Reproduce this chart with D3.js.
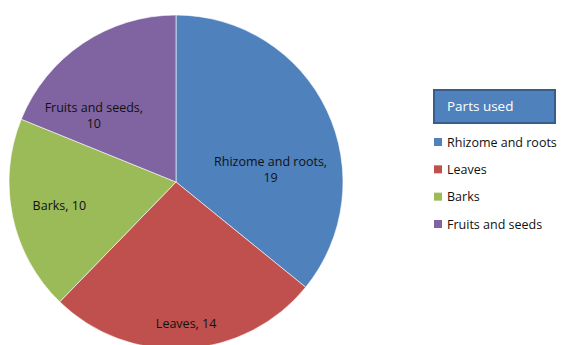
<!DOCTYPE html>
<html>
<head>
<meta charset="utf-8">
<script src="https://cdn.jsdelivr.net/npm/d3@7"></script>
<style>
  body { margin: 0; background: #fff; }
  svg { display: block; font-family: "Open Sans", sans-serif; }
</style>
</head>
<body>
<svg id="chart" width="563" height="345"></svg>
<script>
// chart data
const categories = ["Rhizome and roots", "Leaves", "Barks", "Fruits and seeds"]
const values = [19, 14, 10, 10]
const colors = ["#4F81BD", "#C0504D", "#9BBB59", "#8064A2"]
const legendTitle = "Parts used"

const WIDTH = 563, HEIGHT = 345
const CX = 176, CY = 182, R = 167

// label tweaks so text sits like the original (excel "best fit")
const labelNudge = [[-14, 39], [3, 21], [1, -1], [-15, 33]]
const labelLines = [
  ["Rhizome and roots,", "19"],
  ["Leaves, 14"],
  ["Barks, 10"],
  ["Fruits and seeds,", "10"]
]

const data = categories.map((c, i) => ({ name: c, value: values[i], color: colors[i], i: i }))

const svg = d3.select("#chart")

const pie = d3.pie().value(d => d.value).sort(null)
const arc = d3.arc().innerRadius(0).outerRadius(R)
const labelArc = d3.arc().innerRadius(R * 0.72).outerRadius(R * 0.72)

const g = svg.append("g").attr("transform", `translate(${CX},${CY})`)
const arcs = pie(data)

g.selectAll("path")
  .data(arcs)
  .enter()
  .append("path")
    .attr("d", arc)
    .attr("fill", d => d.data.color)
    .attr("stroke", "#fff")
    .attr("stroke-width", 0.6)

// data labels
const labels = g.selectAll("text.lbl")
  .data(arcs)
  .enter()
  .append("text")
    .attr("class", "lbl")
    .attr("text-anchor", "middle")
    .attr("font-size", 12.5)
    .attr("fill", "#111")
    .attr("transform", d => {
      const c = labelArc.centroid(d)
      const n = labelNudge[d.data.i]
      return `translate(${c[0] + n[0]},${c[1] + n[1]})`
    })

labels.each(function(d) {
  const lines = labelLines[d.data.i]
  const t = d3.select(this)
  const start = -(lines.length - 1) * 16 / 2 + 4.5
  lines.forEach((l, k) => {
    t.append("tspan").attr("x", 0).attr("y", start + k * 16).text(l)
  })
})

// legend
const legend = svg.append("g")
legend.append("rect")
  .attr("x", 434).attr("y", 90)
  .attr("width", 121).attr("height", 33)
  .attr("fill", "#4F81BD")
  .attr("stroke", "#385D8A")
  .attr("stroke-width", 2)
legend.append("text")
  .attr("x", 447).attr("y", 111)
  .attr("font-size", 13.5)
  .attr("fill", "#fff")
  .text(legendTitle)

const ly = d3.scalePoint().domain(categories).range([142, 224])
const items = legend.selectAll("g.item")
  .data(data)
  .enter()
  .append("g")
    .attr("class", "item")
    .attr("transform", d => `translate(434,${ly(d.name)})`)
items.append("rect")
  .attr("x", 0).attr("y", -4)
  .attr("width", 8).attr("height", 8)
  .attr("fill", d => d.color)
items.append("text")
  .attr("x", 13).attr("y", 4.5)
  .attr("font-size", 12.5)
  .attr("fill", "#111")
  .text(d => d.name)
</script>
</body>
</html>
